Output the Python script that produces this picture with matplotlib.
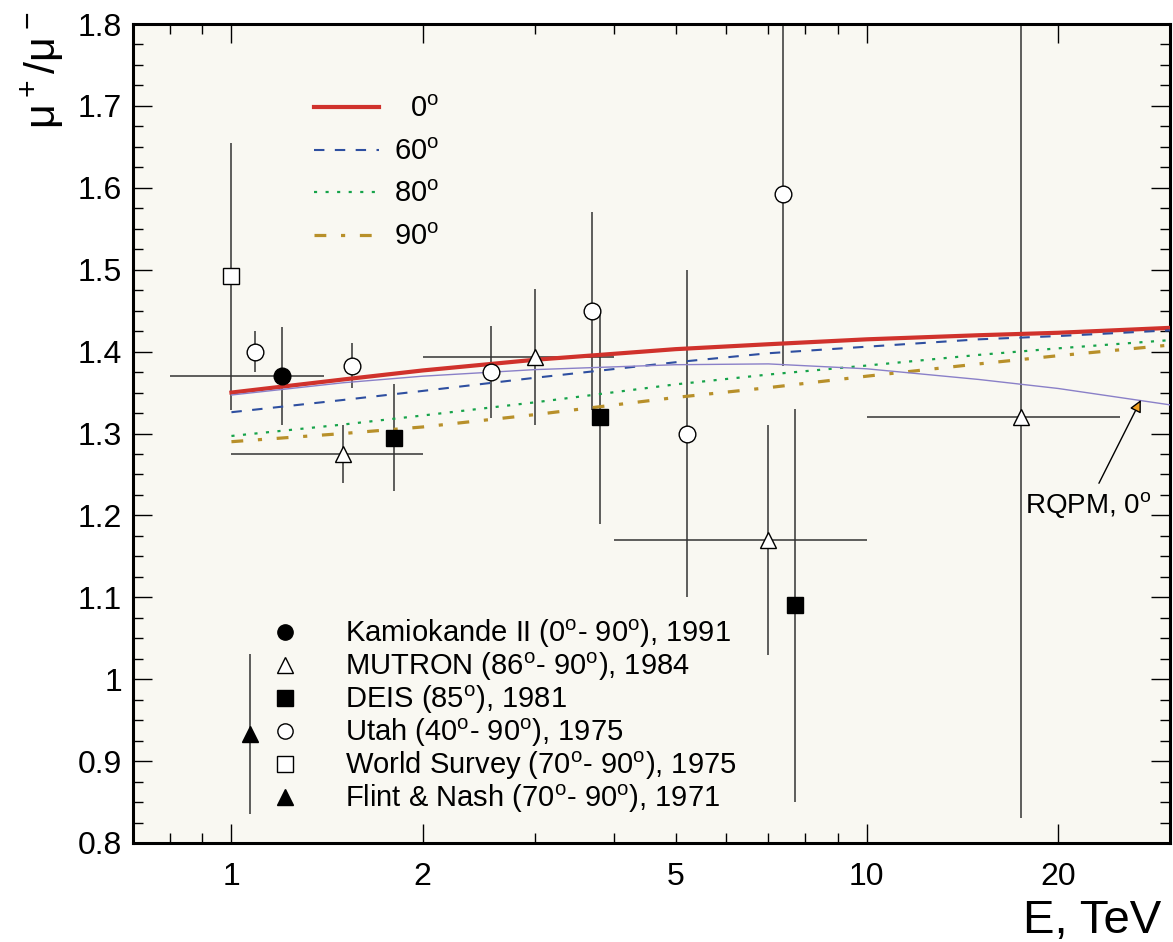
import numpy as np
import matplotlib
matplotlib.use('Agg')
import matplotlib.pyplot as plt
from matplotlib.lines import Line2D

plt.rcParams['font.family'] = ['Liberation Sans', 'DejaVu Sans']
plt.rcParams['mathtext.fontset'] = 'custom'
plt.rcParams['mathtext.rm'] = 'Liberation Sans'
plt.rcParams['mathtext.it'] = 'Liberation Sans'

# model curves
E_curve = [1, 1.5, 2, 3, 5, 7, 10, 15, 20, 30]
r_0 = [1.350, 1.366, 1.377, 1.390, 1.403, 1.409, 1.415, 1.420, 1.423, 1.429]
r_60 = [1.326, 1.341, 1.352, 1.368, 1.387, 1.398, 1.406, 1.415, 1.419, 1.426]
r_80 = [1.297, 1.311, 1.322, 1.338, 1.360, 1.372, 1.383, 1.396, 1.404, 1.414]
r_90 = [1.290, 1.300, 1.308, 1.323, 1.344, 1.356, 1.370, 1.385, 1.395, 1.408]
r_rqpm = [1.347, 1.362, 1.370, 1.378, 1.384, 1.385, 1.379, 1.366, 1.355, 1.335]

# experiments
kam_E, kam_r = [1.2], [1.37]
kam_xlo, kam_xhi, kam_err = [0.8], [1.4], [0.06]

mut_E = [1.5, 3.0, 7.0, 17.5]
mut_r = [1.275, 1.393, 1.17, 1.32]
mut_xlo = [1.0, 2.0, 4.0, 10.0]
mut_xhi = [2.0, 4.0, 10.0, 25.0]
mut_err = [0.035, 0.083, 0.14, 0.49]

deis_E = [1.8, 3.8, 7.7]
deis_r = [1.295, 1.32, 1.09]
deis_err = [0.065, 0.13, 0.24]

utah_E = [1.09, 1.55, 2.56, 3.69, 5.22, 7.37]
utah_r = [1.40, 1.383, 1.375, 1.45, 1.30, 1.593]
utah_err = [0.025, 0.028, 0.056, 0.121, 0.20, 0.21]

ws_E, ws_r, ws_err = [1.0], [1.492], [0.163]
fn_E, fn_r, fn_err = [1.07], [0.933], [0.098]

fig = plt.figure(figsize=(11.73, 9.42), dpi=100)
ax = fig.add_axes([0.1134, 0.1051, 0.8840, 0.8694])
ax.set_facecolor('#f9f8f2')
ax.set_xscale('log')
ax.set_xlim(0.7, 30)
ax.set_ylim(0.8, 1.8)

# error bars
ebkw = dict(fmt='none', ecolor='#333333', elinewidth=1.1, capsize=0, zorder=2)
ax.errorbar(kam_E, kam_r, yerr=kam_err,
            xerr=[np.subtract(kam_E, kam_xlo), np.subtract(kam_xhi, kam_E)], **ebkw)
ax.errorbar(mut_E, mut_r, yerr=mut_err,
            xerr=[np.subtract(mut_E, mut_xlo), np.subtract(mut_xhi, mut_E)], **ebkw)
ax.errorbar(deis_E, deis_r, yerr=deis_err, **ebkw)
ax.errorbar(utah_E, utah_r, yerr=utah_err, **ebkw)
ax.errorbar(ws_E, ws_r, yerr=ws_err, **ebkw)
ax.errorbar(fn_E, fn_r, yerr=fn_err, **ebkw)

# curves
deg = r'$^\mathrm{o}$'
l0, = ax.plot(E_curve, r_0, color='#d0322c', lw=3.0, zorder=3)
l60, = ax.plot(E_curve, r_60, color='#2e4fa0', lw=1.5, dashes=(5, 5), zorder=3)
l80, = ax.plot(E_curve, r_80, color='#16a34a', lw=1.6, dashes=(1.4, 3.8), zorder=3)
l90, = ax.plot(E_curve, r_90, color='#b8902a', lw=2.3, dashes=(3.7, 4.6, 1.3, 4.6), zorder=3)
ax.plot(E_curve, r_rqpm, color='#8a80c8', lw=1.0, zorder=3)

# markers
mk = dict(ls='none', ms=12, mec='black', mew=1.0, zorder=4)
h1, = ax.plot(kam_E, kam_r, marker='o', mfc='black', **mk)
h2, = ax.plot(mut_E, mut_r, marker='^', mfc='white', **mk)
h3, = ax.plot(deis_E, deis_r, marker='s', mfc='black', **mk)
h4, = ax.plot(utah_E, utah_r, marker='o', mfc='white', **mk)
h5, = ax.plot(ws_E, ws_r, marker='s', mfc='white', **mk)
h6, = ax.plot(fn_E, fn_r, marker='^', mfc='black', **mk)

# upper legend (angles)
fsp = '\u2007'
leg1 = ax.legend([l0, l60, l80, l90],
                 [fsp + '0' + deg, '60' + deg, '80' + deg, '90' + deg],
                 loc='upper left', bbox_to_anchor=(0.149, 0.945), frameon=False,
                 fontsize=21, handlelength=2.25, handletextpad=0.5, labelspacing=0.5)
ax.add_artist(leg1)

# lower legend (experiments)
leg_labels = ['Kamiokande II (0' + deg + '- 90' + deg + '), 1991',
              'MUTRON (86' + deg + '- 90' + deg + '), 1984',
              'DEIS (85' + deg + '), 1981',
              'Utah (40' + deg + '- 90' + deg + '), 1975',
              'World Survey (70' + deg + '- 90' + deg + '), 1975',
              'Flint & Nash (70' + deg + '- 90' + deg + '), 1971']
hs = []
for h in [h1, h2, h3, h4, h5, h6]:
    hs.append(Line2D([], [], ls='none', marker=h.get_marker(), mfc=h.get_markerfacecolor(),
                     mec='black', mew=1.0, ms=11))
ax.legend(hs, leg_labels, loc='lower left', bbox_to_anchor=(0.107, 0.002), frameon=False,
          fontsize=21, handlelength=1.0, handletextpad=1.55, labelspacing=0.02)

# annotation
ax.annotate('RQPM, 0' + deg, xy=(27.0, 1.341), xytext=(22.3, 1.213),
            ha='center', va='center', fontsize=20,
            arrowprops=dict(arrowstyle='-|>', fc='#f0a020', ec='black', lw=1.0,
                            mutation_scale=18, shrinkA=3, shrinkB=0))

# ticks
ax.set_xticks([1, 2, 10, 20])
ax.set_xticklabels(['1', '2', '10', '20'])
ax.set_xticks([0.8, 0.9, 3, 4, 5, 6, 7, 8, 9], minor=True)
ax.set_xticklabels(['', '', '', '', '5', '', '', '', ''], minor=True)
ax.set_yticks(np.arange(0.8, 1.81, 0.1))
ax.set_yticklabels(['0.8', '0.9', '1', '1.1', '1.2', '1.3', '1.4', '1.5', '1.6', '1.7', '1.8'])
ax.set_yticks(np.arange(0.8, 1.8, 0.025), minor=True)
ax.tick_params(which='both', direction='in', top=True, right=True, width=1.0)
ax.tick_params(which='major', length=14)
ax.tick_params(which='minor', length=7)
ax.tick_params(axis='x', which='both', pad=14, labelsize=23)
ax.tick_params(axis='y', which='major', pad=8, labelsize=23)
for s in ax.spines.values():
    s.set_linewidth(2.2)

fig.text(0.036, 0.925, r'$\mu^+ / \mu^-$', rotation=90, fontsize=31, ha='center', va='center')
fig.text(0.99, 0.01, 'E, TeV', fontsize=34, ha='right', va='baseline')

fig.savefig('out.png', dpi=100, facecolor='white')
